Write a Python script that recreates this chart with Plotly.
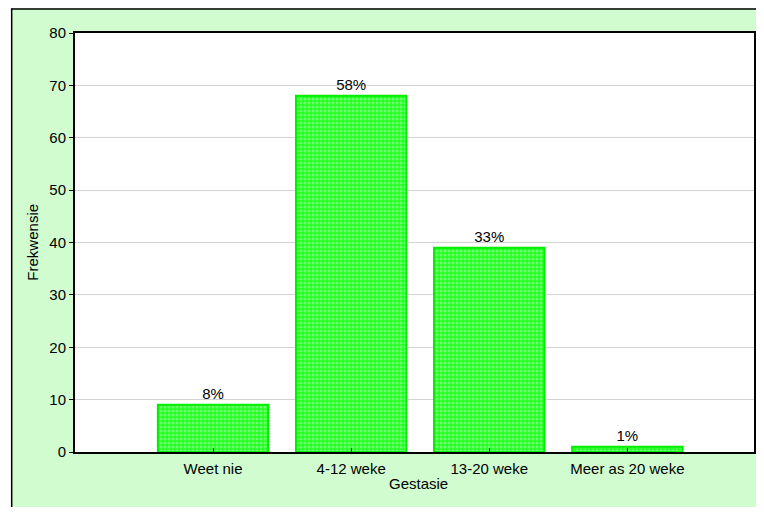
import plotly.graph_objects as go

categories = ["Weet nie", "4-12 weke", "13-20 weke", "Meer as 20 weke"]
counts = [9, 68, 39, 1]
pct_labels = ["8%", "58%", "33%", "1%"]
y_ticks = [0, 10, 20, 30, 40, 50, 60, 70, 80]

# page places the figure at an 8px offset; keep it inside the window
W, H = 748, 499
L, R, T, B = 67, 0, 25, 55
pw, ph = W - L - R, H - T - B
CAT_STEP = 138.5  # pixels per category slot in the reference

def px2x(px):
    return (px - L) / pw

def py2y(py):
    return (H - B - py) / ph

FONT = "Liberation Sans, Arial"

fig = go.Figure()
fig.add_trace(go.Bar(
    x=categories, y=counts, text=pct_labels, textposition="outside",
    textfont=dict(size=15, color="black", family=FONT),
    cliponaxis=False, width=0.8,
    marker=dict(color="#44ff44", line=dict(color="#00ee00", width=2),
                pattern=dict(shape=".", bgcolor="#22ff22", fgcolor="#bbffbb",
                             size=4, solidity=0.45)),
    showlegend=False,
))

fig.update_layout(
    width=W, height=H,
    margin=dict(l=L, r=R, t=T, b=B, pad=0),
    paper_bgcolor="#d0fcd0", plot_bgcolor="white",
    font=dict(family=FONT, size=15, color="black"),
    xaxis=dict(type="category", range=[-1, -1 + pw / CAT_STEP], showgrid=False,
               showline=True, linecolor="black", linewidth=2, mirror=True,
               ticks="inside", ticklen=4, tickcolor="black",
               tickfont=dict(size=15), ticklabelstandoff=2),
    yaxis=dict(range=[0, 80], tickvals=y_ticks, showgrid=True,
               gridcolor="#d3d3d3", gridwidth=1,
               showline=True, linecolor="black", linewidth=2, mirror=True,
               ticks="outside", ticklen=4, tickcolor="black",
               tickfont=dict(size=15), zeroline=False),
    annotations=[
        dict(text="Gestasie", xref="paper", yref="paper", x=px2x(412),
             y=py2y(475), xanchor="center", yanchor="middle",
             showarrow=False, font=dict(size=15)),
        dict(text="Frekwensie", xref="paper", yref="paper", x=px2x(24),
             y=0.5, xanchor="center", yanchor="middle", textangle=-90,
             showarrow=False, font=dict(size=15)),
    ],
    shapes=[
        dict(type="rect", xref="paper", yref="paper", x0=px2x(-5), x1=px2x(3),
             y0=-0.3, y1=1.3, fillcolor="white", line=dict(width=0),
             layer="above"),
        dict(type="line", xref="paper", yref="paper", x0=px2x(3), x1=px2x(W + 5),
             y0=py2y(1), y1=py2y(1), line=dict(color="black", width=1.5),
             layer="above"),
        dict(type="line", xref="paper", yref="paper", x0=px2x(3.5), x1=px2x(3.5),
             y0=py2y(H + 5), y1=py2y(0.5), line=dict(color="black", width=1.5),
             layer="above"),
    ],
)

fig.write_html("out.html")
